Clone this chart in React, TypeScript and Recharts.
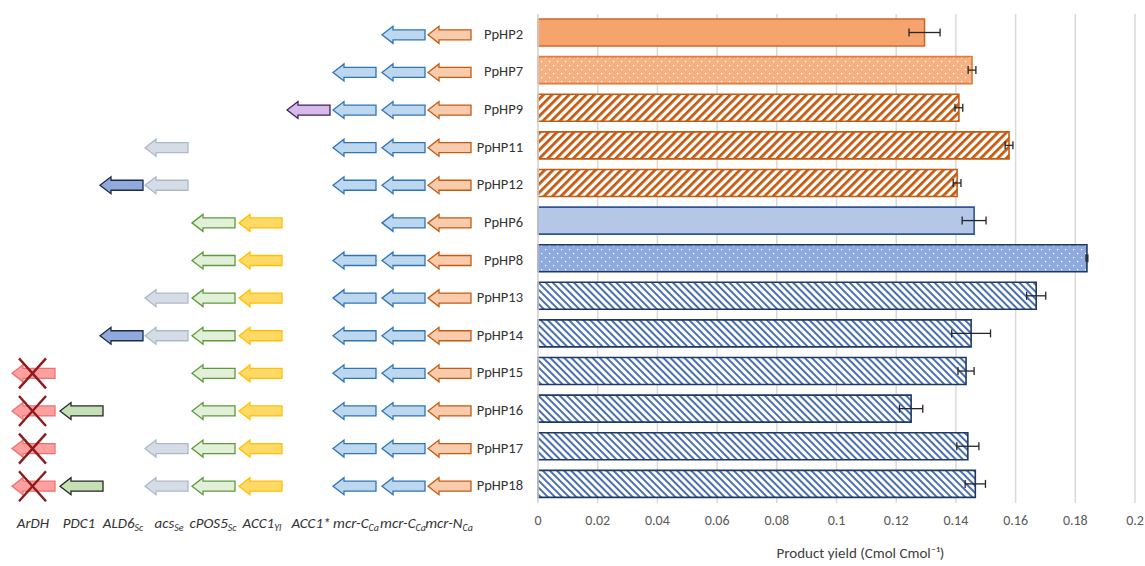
import { Bar, BarChart, CartesianGrid, Cell, ErrorBar, XAxis, YAxis } from "recharts"

const FONT = "Calibri, Carlito, Lato, sans-serif"

const strains = ["PpHP2", "PpHP7", "PpHP9", "PpHP11", "PpHP12", "PpHP6", "PpHP8", "PpHP13", "PpHP14", "PpHP15", "PpHP16", "PpHP17", "PpHP18"]
const yields = [0.1295, 0.1454, 0.141, 0.1578, 0.1404, 0.1461, 0.1839, 0.1669, 0.1451, 0.1434, 0.125, 0.144, 0.1465]
const yieldErrors = [0.0052, 0.0013, 0.0013, 0.0013, 0.0013, 0.004, 0.0003, 0.0032, 0.0065, 0.0027, 0.0039, 0.0037, 0.0034]
const barStyles = [
  "orangeSolid", "orangeDots", "orangeHatch", "orangeHatch", "orangeHatch",
  "blueSolid", "blueDots", "blueHatch", "blueHatch", "blueHatch", "blueHatch", "blueHatch", "blueHatch",
]
const xTicks = [0, 0.02, 0.04, 0.06, 0.08, 0.1, 0.12, 0.14, 0.16, 0.18, 0.2]

// gene columns, left to right
const geneColumns = ["ArDH", "PDC1", "ALD6", "acs", "cPOS5", "ACC1Yl", "ACC1s", "mcrC1", "mcrC2", "mcrN"]
const geneLabels: [string, string][] = [
  ["ArDH", ""], ["PDC1", ""], ["ALD6", "Sc"], ["acs", "Se"], ["cPOS5", "Sc"],
  ["ACC1", "Yl"], ["ACC1*", ""], ["mcr-C", "Ca"], ["mcr-C", "Ca"], ["mcr-N", "Ca"],
]
// genes carried by each strain
const constructs: string[][] = [
  ["mcrC2", "mcrN"],
  ["mcrC1", "mcrC2", "mcrN"],
  ["ACC1s", "mcrC1", "mcrC2", "mcrN"],
  ["acs", "mcrC1", "mcrC2", "mcrN"],
  ["ALD6", "acs", "mcrC1", "mcrC2", "mcrN"],
  ["cPOS5", "ACC1Yl", "mcrC2", "mcrN"],
  ["cPOS5", "ACC1Yl", "mcrC1", "mcrC2", "mcrN"],
  ["acs", "cPOS5", "ACC1Yl", "mcrC1", "mcrC2", "mcrN"],
  ["ALD6", "acs", "cPOS5", "ACC1Yl", "mcrC1", "mcrC2", "mcrN"],
  ["ArDH", "cPOS5", "ACC1Yl", "mcrC1", "mcrC2", "mcrN"],
  ["ArDH", "PDC1", "cPOS5", "ACC1Yl", "mcrC1", "mcrC2", "mcrN"],
  ["ArDH", "acs", "cPOS5", "ACC1Yl", "mcrC1", "mcrC2", "mcrN"],
  ["ArDH", "PDC1", "acs", "cPOS5", "ACC1Yl", "mcrC1", "mcrC2", "mcrN"],
]

const colLeft = [12, 60, 100, 145, 192, 239, 287, 333, 382, 428]
const colCenter = [33, 79, 123, 169, 213, 262, 311, 356, 403, 449]

const geneColors: Record<string, { fill: string; stroke: string }> = {
  ArDH: { fill: "#FF9F9F", stroke: "#EE7070" },
  PDC1: { fill: "#C5E0B4", stroke: "#262626" },
  ALD6: { fill: "#8FAADC", stroke: "#1F2A44" },
  acs: { fill: "#D6DCE5", stroke: "#ADB9CA" },
  cPOS5: { fill: "#E2F0D9", stroke: "#5E9A3A" },
  ACC1Yl: { fill: "#FFD966", stroke: "#FFC000" },
  ACC1s: { fill: "#D7B9EC", stroke: "#3D2356" },
  mcrC1: { fill: "#BDD7EE", stroke: "#2E75B6" },
  mcrC2: { fill: "#BDD7EE", stroke: "#2E75B6" },
  mcrN: { fill: "#F8CBAD", stroke: "#C55A11" },
}

const barColors: Record<string, { fill: string; stroke: string }> = {
  orangeSolid: { fill: "#F4A46C", stroke: "#D0672A" },
  orangeDots: { fill: "url(#orangeDots)", stroke: "#E07B39" },
  orangeHatch: { fill: "url(#orangeHatch)", stroke: "#C55A11" },
  blueSolid: { fill: "#B4C7E7", stroke: "#2F5597" },
  blueDots: { fill: "url(#blueDots)", stroke: "#1F3864" },
  blueHatch: { fill: "url(#blueHatch)", stroke: "#1F3864" },
}

const chartData = strains.map((s, i) => ({ strain: s, yield: yields[i], err: yieldErrors[i] }))

function GeneArrow({ gene, cy }: { gene: string; cy: number }) {
  const col = geneColumns.indexOf(gene)
  const x0 = colLeft[col]
  const len = 43
  const c = geneColors[gene]
  const d = `M${x0},${cy} L${x0 + 11},${cy - 8.5} L${x0 + 11},${cy - 5} L${x0 + len},${cy - 5} L${x0 + len},${cy + 5} L${x0 + 11},${cy + 5} L${x0 + 11},${cy + 8.5} Z`
  return (
    <g>
      <path d={d} fill={c.fill} stroke={c.stroke} strokeWidth={1.3} />
      {gene === "ArDH" && (
        <g stroke="#8E1B1B" strokeWidth={2.4}>
          <line x1={x0 + 7} y1={cy - 15} x2={x0 + 34} y2={cy + 15} />
          <line x1={x0 + 34} y1={cy - 15} x2={x0 + 7} y2={cy + 15} />
        </g>
      )}
    </g>
  )
}

function StrainTick(props: any) {
  const { y, payload } = props
  const idx = strains.indexOf(payload.value)
  const row = constructs[idx] || []
  return (
    <g>
      {row.map((g) => (
        <GeneArrow key={g} gene={g} cy={y + 2} />
      ))}
      <text x={523} y={y} dy={6} textAnchor="end" fill="#333333" fontSize={14.5} fontFamily={FONT}>
        {payload.value}
      </text>
    </g>
  )
}

export default function App() {
  return (
    <div style={{ position: "absolute", left: 0, top: 0, width: 1145, height: 566, background: "#fff" }}>
      <BarChart
        width={1145}
        height={566}
        data={chartData}
        layout="vertical"
        margin={{ top: 14, right: 10, bottom: 8, left: 0 }}
        barSize={27}
      >
        <defs>
          <pattern id="orangeDots" width="8" height="8" patternUnits="userSpaceOnUse">
            <rect width="8" height="8" fill="#F4B183" />
            <rect x="1" y="1" width="1.2" height="1.2" fill="#fff" />
            <rect x="5" y="5" width="1.2" height="1.2" fill="#fff" />
          </pattern>
          <pattern id="blueDots" width="8" height="8" patternUnits="userSpaceOnUse">
            <rect width="8" height="8" fill="#8FAADC" />
            <rect x="1" y="1" width="1.2" height="1.2" fill="#fff" />
            <rect x="5" y="5" width="1.2" height="1.2" fill="#fff" />
          </pattern>
          <pattern id="orangeHatch" width="6" height="6" patternUnits="userSpaceOnUse" patternTransform="rotate(45)">
            <rect width="6" height="6" fill="#fff" />
            <rect width="2.8" height="6" fill="#C55A11" />
          </pattern>
          <pattern id="blueHatch" width="5" height="5" patternUnits="userSpaceOnUse" patternTransform="rotate(-45)">
            <rect width="5" height="5" fill="#fff" />
            <rect width="2" height="5" fill="#4A6FB5" />
          </pattern>
        </defs>
        <CartesianGrid horizontal={false} stroke="#D9D9D9" strokeWidth={1.5} />
        <XAxis
          type="number"
          domain={[0, 0.2]}
          ticks={xTicks}
          tickLine={false}
          axisLine={false}
          tickMargin={6}
          height={55}
          tick={{ fill: "#595959", fontSize: 14, fontFamily: FONT }}
          label={{
            value: "Product yield (Cmol Cmol⁻¹)",
            position: "insideBottom",
            offset: 0,
            dx: 24,
            fill: "#404040",
            fontSize: 15,
            fontFamily: FONT,
          }}
        />
        <YAxis
          type="category"
          dataKey="strain"
          width={538}
          interval={0}
          tickLine={false}
          axisLine={{ stroke: "#D9D9D9", strokeWidth: 1.5 }}
          tick={<StrainTick />}
        />
        <Bar dataKey="yield" isAnimationActive={false}>
          {chartData.map((d, i) => (
            <Cell key={d.strain} fill={barColors[barStyles[i]].fill} stroke={barColors[barStyles[i]].stroke} strokeWidth={1.6} />
          ))}
          <ErrorBar dataKey="err" direction="x" width={4} stroke="#262626" strokeWidth={1.3} />
        </Bar>
      </BarChart>
      <svg width={540} height={566} style={{ position: "absolute", left: 0, top: 0, pointerEvents: "none" }}>
        {geneLabels.map(([main, sub], i) => (
          <text key={i} x={colCenter[i]} y={528} textAnchor="middle" fontStyle="italic" fill="#333333" fontSize={15} fontFamily={FONT}>
            {main}
            {sub && (
              <tspan fontSize={10} dy={3}>
                {sub}
              </tspan>
            )}
          </text>
        ))}
      </svg>
    </div>
  )
}
